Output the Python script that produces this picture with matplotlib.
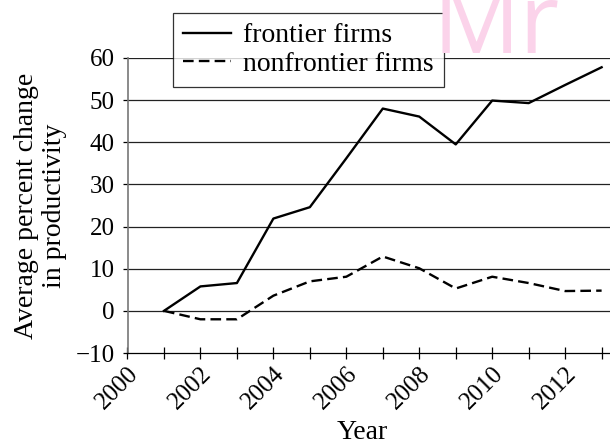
import matplotlib
matplotlib.use("Agg")
import matplotlib.pyplot as plt

years = [2001, 2002, 2003, 2004, 2005, 2006, 2007, 2008, 2009, 2010, 2011, 2012, 2013]
frontier = [0, 5.8, 6.6, 21.9, 24.6, 36.2, 48.0, 46.1, 39.5, 49.9, 49.3, 53.6, 57.8]
nonfrontier = [0, -2.0, -2.0, 3.6, 7.0, 8.1, 12.9, 10.1, 5.3, 8.1, 6.6, 4.7, 4.8]
yticks = [-10, 0, 10, 20, 30, 40, 50, 60]
xticklabels = [2000, 2002, 2004, 2006, 2008, 2010, 2012]

plt.rcParams['font.family'] = ['Liberation Serif', 'DejaVu Serif']

fig = plt.figure(figsize=(6.10, 4.44), dpi=100)
ax = fig.add_axes([127.5/610, 1-353/444, 1-127.5/610, (353-58)/444])

for v in yticks[1:]:
    ax.axhline(v, color='#222222', lw=0.9, zorder=1)

ax.plot(years, frontier, color='black', lw=1.7, label='frontier firms', zorder=3)
ax.plot(years, nonfrontier, color='black', lw=1.7, ls=(0, (4.5, 2.2)), label='nonfrontier firms', zorder=3)

ax.set_xlim(2000, 2013.23)
ax.set_ylim(-10, 60)
ax.set_yticks(yticks)
ax.set_yticklabels([("\u2212%d" % -v) if v < 0 else str(v) for v in yticks], fontsize=18)
ax.set_xticks(range(2000, 2014))
ax.set_xticklabels([str(y) if y in xticklabels else '' for y in range(2000, 2014)],
                   rotation=45, ha='right', rotation_mode='anchor', fontsize=18)
ax.tick_params(axis='x', direction='inout', length=8, width=0.9, pad=3)
ax.tick_params(axis='y', direction='out', length=3.6, width=0.9, pad=5.5)

for s in ['top', 'right']:
    ax.spines[s].set_visible(False)
ax.spines['left'].set_color('#777777')
ax.spines['left'].set_linewidth(1.2)
ax.spines['bottom'].set_linewidth(0.9)
ax.patch.set_alpha(0)

ax.set_xlabel('Year', fontsize=20)
ax.xaxis.set_label_coords((362-127.5)/482.5, (353-420)/295)
ax.set_ylabel('Average percent change\nin productivity', fontsize=20, linespacing=1.15)
ax.yaxis.set_label_coords((67-127.5)/482.5, 0.5)

leg = fig.legend(loc='upper left', bbox_to_anchor=(173/610, 1-13/444), borderaxespad=0,
                 fontsize=20, frameon=True, fancybox=False, edgecolor='black',
                 handlelength=1.73, handletextpad=0.43, labelspacing=0.12, borderpad=0.36)
leg.get_frame().set_linewidth(0.9)

# watermark
fig.text(432/610, 1-53/444, "Mr", fontsize=70, color='#fbd3ea', family='Open Sans',
         ha='left', va='baseline', zorder=10)

fig.savefig('out.png', dpi=100)
